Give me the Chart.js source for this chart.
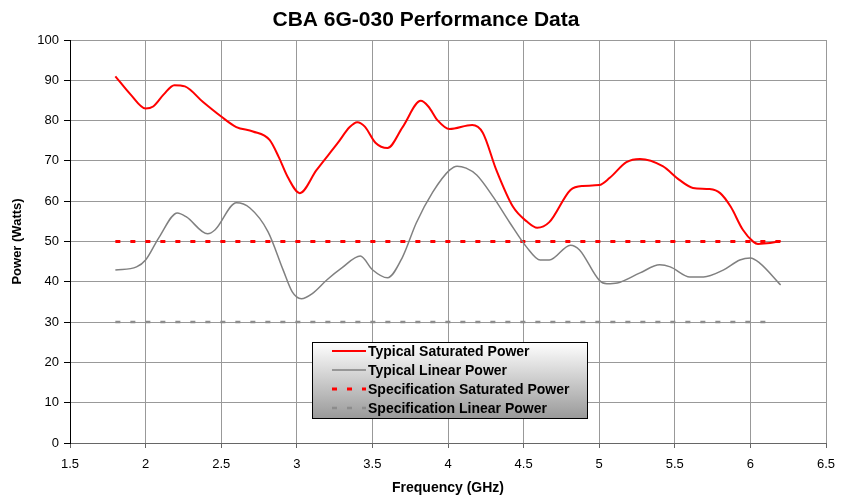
<!DOCTYPE html>
<html>
<head>
<meta charset="utf-8">
<script src="https://cdn.jsdelivr.net/npm/chart.js@4.4.1/dist/chart.umd.min.js"></script>
<style>
  html, body { margin: 0; padding: 0; background: #fff; }
  #wrap { width: 845px; height: 497px; }
</style>
</head>
<body>
<div id="wrap"><canvas id="chart"></canvas></div>
<script>
// --- data ---
const satFreq = [1.80, 1.90, 2.00, 2.05, 2.12, 2.19, 2.26, 2.38, 2.50, 2.60, 2.71, 2.82, 2.88, 2.94, 3.02,
  3.13, 3.27, 3.35, 3.40, 3.45, 3.52, 3.60, 3.70, 3.82, 3.87, 3.93, 4.01, 4.16, 4.23, 4.32, 4.43,
  4.52, 4.59, 4.67, 4.81, 4.89, 5.00, 5.07, 5.18, 5.27, 5.42, 5.53, 5.62, 5.73, 5.80, 5.87, 5.95,
  6.02, 6.05, 6.13, 6.20];
const satPower = [91, 86.5, 83, 83.5, 86.5, 88.8, 88.5, 84.6, 81, 78.4, 77.3, 75.2, 71, 66, 62,
  67.7, 74.4, 78.4, 79.6, 78.5, 74.5, 73.2, 78.4, 84.9, 83.5, 80.1, 77.9, 78.9, 77, 67.7, 58.6,
  55, 53.4, 54.8, 62.8, 63.8, 64, 65.8, 69.7, 70.5, 68.7, 65.3, 63.3, 63, 62, 58.6, 52.9,
  49.9, 49.4, 49.6, 50.1];

const linFreq = [1.80, 1.94, 2.00, 2.09, 2.21, 2.27, 2.41, 2.46, 2.60, 2.69, 2.81, 2.91, 2.97, 3.03,
  3.10, 3.20, 3.30, 3.42, 3.50, 3.60, 3.70, 3.79, 3.90, 4.01, 4.06, 4.12, 4.19, 4.30, 4.41, 4.52,
  4.61, 4.67, 4.81, 4.87, 5.00, 5.05, 5.12, 5.27, 5.40, 5.47, 5.60, 5.69, 5.82, 5.93, 6.00, 6.06, 6.20];
const linPower = [42.9, 43.7, 45.4, 51.1, 57.1, 56.1, 51.9, 52.9, 59.6, 58.3, 52.4, 42.9, 37.5, 35.8,
  37, 40.5, 43.5, 46.4, 43, 41, 46.2, 54.6, 62.3, 67.7, 68.7, 68.2, 66.5, 61, 54.6, 48.6,
  45.4, 45.4, 49.1, 47.9, 40.4, 39.5, 39.7, 42.2, 44.2, 43.7, 41.2, 41.2, 42.9, 45.4, 45.9, 44.7, 39.2];

const specSatFreq = [1.8, 6.2];
const specSatPower = [50, 50];
const specLinFreq = [1.8, 6.15];
const specLinPower = [30, 30];

const seriesLabels = ['Typical Saturated Power', 'Typical Linear Power',
  'Specification Saturated Power', 'Specification Linear Power'];
const chartTitle = 'CBA 6G-030 Performance Data';

const FONT = '"Liberation Sans", Arial, sans-serif';

function pts(xs, ys) {
  return xs.map((x, i) => ({ x: x, y: ys[i] }));
}

// title drawn by hand so it can sit a bit right of the canvas centre, as in the original
const chartHeading = {
  id: 'chartHeading',
  afterDraw(chart) {
    const ctx = chart.ctx;
    ctx.save();
    ctx.font = 'bold 21px ' + FONT;
    ctx.fillStyle = '#000';
    ctx.textAlign = 'center';
    ctx.textBaseline = 'middle';
    ctx.fillText(chartTitle, 426, 20);
    ctx.restore();
  }
};

// legend box drawn inside the plot, like the original
const boxLegend = {
  id: 'boxLegend',
  afterDraw(chart) {
    const ctx = chart.ctx;
    const x = 312, y = 342, w = 275, h = 76;
    ctx.save();
    const g = ctx.createLinearGradient(0, y, 0, y + h);
    g.addColorStop(0, '#ffffff');
    g.addColorStop(1, '#9a9a9a');
    ctx.fillStyle = g;
    ctx.fillRect(x, y, w, h);
    ctx.strokeStyle = '#000';
    ctx.lineWidth = 1;
    ctx.strokeRect(x + 0.5, y + 0.5, w, h);

    ctx.font = 'bold 14px ' + FONT;
    ctx.textBaseline = 'middle';
    ctx.fillStyle = '#000';
    chart.data.datasets.forEach((ds, i) => {
      const ry = 351 + i * 19;
      ctx.beginPath();
      ctx.strokeStyle = ds.borderColor;
      ctx.lineWidth = ds.borderWidth;
      ctx.setLineDash(ds.borderDash || []);
      ctx.moveTo(332, ry);
      ctx.lineTo(366, ry);
      ctx.stroke();
      ctx.setLineDash([]);
      ctx.fillText(ds.label, 368, ry + 1);
    });
    ctx.restore();
  }
};

new Chart(document.getElementById('chart'), {
  type: 'line',
  data: {
    datasets: [
      {
        label: seriesLabels[0],
        data: pts(satFreq, satPower),
        borderColor: '#ff0000',
        borderWidth: 2,
        cubicInterpolationMode: 'monotone',
        pointRadius: 0
      },
      {
        label: seriesLabels[1],
        data: pts(linFreq, linPower),
        borderColor: '#808080',
        borderWidth: 1.5,
        cubicInterpolationMode: 'monotone',
        pointRadius: 0
      },
      {
        label: seriesLabels[2],
        data: pts(specSatFreq, specSatPower),
        borderColor: '#ff0000',
        borderWidth: 3,
        borderDash: [5, 10],
        pointRadius: 0
      },
      {
        label: seriesLabels[3],
        data: pts(specLinFreq, specLinPower),
        borderColor: '#8c8c8c',
        borderWidth: 2.5,
        borderDash: [5, 10],
        pointRadius: 0
      }
    ]
  },
  options: {
    responsive: true,
    maintainAspectRatio: false,
    animation: false,
    layout: { padding: { top: 40, right: 19, bottom: 0, left: 0 } },
    plugins: {
      legend: { display: false },
      tooltip: { enabled: false },
      title: { display: false }
    },
    scales: {
      x: {
        type: 'linear',
        min: 1.5,
        max: 6.5,
        afterFit: s => { s.height = 54; },
        ticks: {
          stepSize: 0.5,
          color: '#000',
          padding: 9,
          font: { family: FONT, size: 13 },
          callback: v => String(v)
        },
        grid: { color: '#999', tickLength: 5, tickColor: '#666' },
        border: { color: '#666', width: 1 },
        title: {
          display: true,
          text: 'Frequency (GHz)',
          color: '#000',
          font: { family: FONT, size: 14, weight: 'bold' },
          padding: { top: 0, bottom: 0 }
        }
      },
      y: {
        min: 0,
        max: 100,
        afterFit: s => { s.width = 70; },
        ticks: {
          stepSize: 10,
          color: '#000',
          padding: 5,
          font: { family: FONT, size: 13 }
        },
        grid: { color: '#999', tickLength: 6, tickColor: '#000' },
        border: { color: '#000', width: 1 },
        title: {
          display: true,
          text: 'Power (Watts)',
          color: '#000',
          font: { family: FONT, size: 13, weight: 'bold' },
          padding: { top: 10, bottom: 0 }
        }
      }
    }
  },
  plugins: [chartHeading, boxLegend]
});
</script>
</body>
</html>
